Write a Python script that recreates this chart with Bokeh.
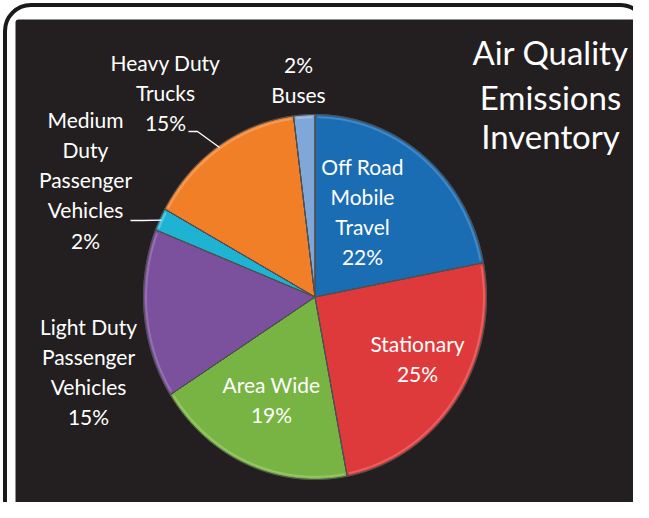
import numpy as np
from bokeh.plotting import figure
from bokeh.models import Range1d
from bokeh.core.properties import value
from bokeh.embed import file_html
from bokeh.resources import INLINE

# ---- data ----
categories = ["Off Road Mobile Travel", "Stationary", "Area Wide",
              "Light Duty Passenger Vehicles", "Medium Duty Passenger Vehicles",
              "Heavy Duty Trucks", "Buses"]
shares = [22, 25, 19, 15, 2, 15, 2]
label_templates = ["Off Road\nMobile\nTravel\n{}%", "Stationary\n{}%", "Area Wide\n{}%",
                   "Light Duty\nPassenger\nVehicles\n{}%", "Medium\nDuty\nPassenger\nVehicles\n{}%",
                   "Heavy Duty\nTrucks\n{}%", "{}%\nBuses"]
title_lines = ["Air Quality", "Emissions", "Inventory"]

# ---- styles / layout ----
colors = ["#1a6db3", "#df3a3b", "#78b443", "#7b509c", "#1fb3d3", "#f07f28", "#7fa7d9"]
edge_colors = ["#5d9ad2", "#ee7b7c", "#a6d37a", "#a585c0", "#7fd6e8", "#f7ad74", "#b5cdea"]
CX, CY, RX, RY = 314.5, 296.5, 171.5, 182.5
label_pos = [(362, 165.5), (417, 342.5), (271, 383.5), (88, 325.5), (85, 118.5), (165, 61.5), (298, 63.5)]
LINE_STEP = 30.3
leader_from = {5: [(188, 131), (197, 131)], 4: [(130, 220), (142, 220)]}
FONT = value("Lato")

p = figure(width=633, height=502, x_range=Range1d(0, 633), y_range=Range1d(502, 0),
           output_backend="svg", toolbar_location=None, min_border=0)
p.axis.visible = False
p.grid.visible = False
p.outline_line_color = None
p.background_fill_color = "white"
p.border_fill_color = "white"

# frame
p.quad(left=15, right=640, top=19, bottom=540, fill_color="#231f20", line_color=None, border_radius=3)
p.quad(left=4.5, right=645.5, top=4.5, bottom=600, fill_color=None, line_color="#1a1a1a",
       line_width=4, border_radius=26)

# slices
total = float(sum(shares))
ends = 90 - 360 * np.cumsum(shares) / total
starts = np.concatenate([[90.0], ends[:-1]])
xs, ys = [], []
for a0, a1 in zip(starts, ends):
    n = max(4, int(abs(a0 - a1)) * 2)
    t = np.radians(np.linspace(a0, a1, n))
    xs.append([CX] + list(CX + RX * np.cos(t)))
    ys.append([CY] + list(CY - RY * np.sin(t)))
p.patches(xs, ys, fill_color=colors, line_color="#505050", line_width=1)

# subtle bevel highlight just inside each slice edge
bx, by = [], []
for a0, a1 in zip(starts, ends):
    n = max(4, int(abs(a0 - a1)) * 2)
    t = np.radians(np.linspace(a0 - 0.8, a1 + 0.8, n))
    bx.append(list(CX + RX * 0.985 * np.cos(t)))
    by.append(list(CY - RY * 0.985 * np.sin(t)))
p.multi_line(bx, by, line_color=edge_colors, line_width=2, line_alpha=0.6)
p.patches(xs, ys, fill_color=None, line_color="#505050", line_width=1)

# leader lines
lx, ly = [], []
for i, pts in leader_from.items():
    mid = np.radians((starts[i] + ends[i]) / 2)
    px = CX + RX * 0.99 * np.cos(mid)
    py = CY - RY * 0.99 * np.sin(mid)
    lx.append([q[0] for q in pts] + [px])
    ly.append([q[1] for q in pts] + [py])
p.multi_line(lx, ly, line_color="white", line_width=1.3)

# labels
tx, ty, tt = [], [], []
for i, tmpl in enumerate(label_templates):
    lines = tmpl.format(shares[i]).split("\n")
    x0, y0 = label_pos[i]
    for j, line in enumerate(lines):
        tx.append(x0)
        ty.append(y0 + j * LINE_STEP)
        tt.append(line)
p.text(x=tx, y=ty, text=tt, text_font=FONT, text_font_size="21px", text_color="white",
       text_align="center", text_baseline="middle")

# title
p.text(x=[550] * 3, y=[51, 96, 135], text=title_lines, text_font=FONT, text_font_size="33px",
       text_color="white", text_align="center", text_baseline="middle")

open("out.html", "w").write(file_html(p, INLINE))
